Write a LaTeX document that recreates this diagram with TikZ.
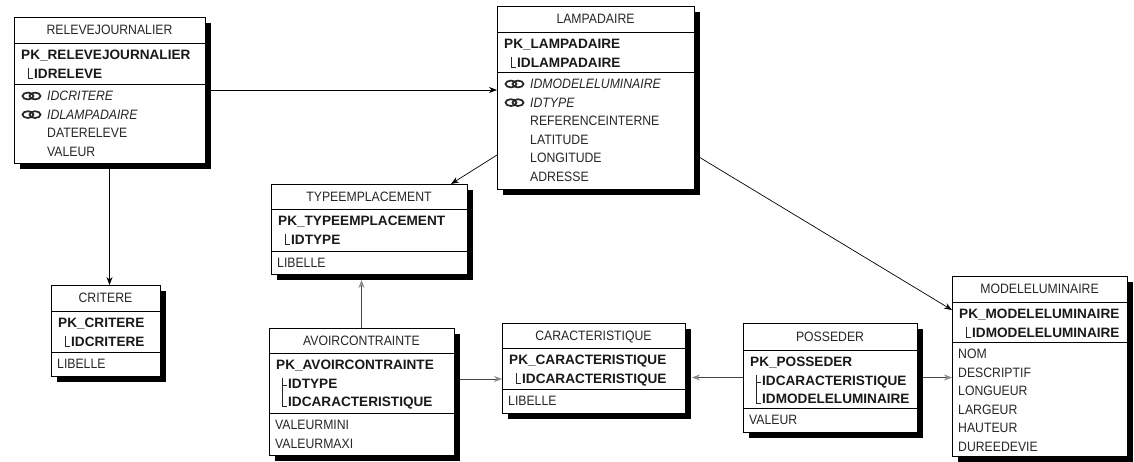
\documentclass[tikz,border=0pt]{standalone}
\usepackage{fontspec}
\setmainfont{Liberation Sans}[FakeStretch=0.9]
\newfontfamily\pkf{Liberation Sans}
\usetikzlibrary{arrows.meta,calc}
\pgfdeclarelayer{bg}
\pgfsetlayers{bg,main}
\definecolor{txt}{HTML}{262626}
\definecolor{garrow}{HTML}{8A8A8A}
\definecolor{gline}{HTML}{444444}
\tikzset{
  tablebox/.style={draw=black, line width=0.9pt, fill=white, inner sep=0pt, outer sep=0pt, rectangle},
  shadowbox/.style={fill=black},
  sepline/.style={draw=black, line width=0.9pt},
  hdr/.style={anchor=base, inner sep=0pt, text=txt, font=\fontsize{13.6}{14}\selectfont},
  pk/.style={anchor=base west, inner sep=0pt, text=black!90, font=\pkf\bfseries\fontsize{13.6}{14}\selectfont},
  att/.style={anchor=base west, inner sep=0pt, text=txt, font=\fontsize{13.6}{14}\selectfont},
  fk/.style={att, font=\itshape\fontsize{13.6}{14}\selectfont},
  treeline/.style={draw=txt, line width=0.8pt},
  fkring/.style={draw=black!85, line width=1.7pt},
  link/.style={draw=black, line width=0.7pt, -{Stealth[length=8pt,width=6pt]}},
  glink/.style={draw=gline, line width=0.7pt, -{Stealth[length=8pt,width=6pt,color=garrow]}},
}
% #1 name, #2 L, #3 T, #4 R, #5 header line, #6 pk line, #7 bottom, #8 title
\newcommand\dbtable[8]{%
  \fill[shadowbox] (#2+6,#3+6) rectangle (#4+6,#7+6);
  \node[tablebox, minimum width={#4-#2}, minimum height={#7-#3}] (#1) at ({(#2+#4)/2},{(#3+#7)/2}) {};
  \draw[sepline] (#2,#5) -- (#4,#5) (#2,#6) -- (#4,#6);
  \node[hdr] (#1-h) at ({(#2+#4)/2},{(#3+#5)/2+4.8}) {#8};
}
% #1 name, #2 style, #3 x, #4 section top, #5 row index, #6 text
\newcommand\rowat[6]{\node[#2] (#1) at (#3,{#4+16.5+18.6*#5}) {#6};}
% single corner: #1 L, #2 section top, #3 row index
\newcommand\treeone[3]{\draw[treeline] (#1+14,{#2+6.5+18.6*#3}) |- (#1+18.5,{#2+16.5+18.6*#3});}
% two rows (1 and 2): #1 L, #2 section top
\newcommand\treetwo[2]{\draw[treeline] (#1+13,{#2+6.5+18.6}) |- (#1+17.5,{#2+16.5+37.2})
  (#1+13,{#2+14+18.6}) -- (#1+17.5,{#2+14+18.6});}
% fk icon: #1 L, #2 section top, #3 row index
\newcommand\fkicon[3]{\draw[fkring] (#1+14,{#2+12+18.6*#3}) ellipse (5.5pt and 3.4pt)
  (#1+21,{#2+12+18.6*#3}) ellipse (5.5pt and 3.4pt);}
\begin{document}
\begin{tikzpicture}[x=1pt,y=-1pt]
\useasboundingbox (0,0) rectangle (1134,461);

% RELEVEJOURNALIER
\dbtable{rel}{14}{17}{205}{43}{84}{163}{RELEVEJOURNALIER}
\rowat{rel-pk}{pk}{21}{43}{0}{PK\_RELEVEJOURNALIER}
\rowat{rel-k1}{pk}{34}{43}{1}{IDRELEVE}
\treeone{14}{43}{1}
\fkicon{14}{84}{0}\fkicon{14}{84}{1}
\rowat{rel-a1}{fk}{47}{84}{0}{IDCRITERE}
\rowat{rel-a2}{fk}{47}{84}{1}{IDLAMPADAIRE}
\rowat{rel-a3}{att}{47}{84}{2}{DATERELEVE}
\rowat{rel-a4}{att}{47}{84}{3}{VALEUR}

% LAMPADAIRE
\dbtable{lamp}{497}{6}{694}{32}{72}{189}{LAMPADAIRE}
\rowat{lamp-pk}{pk}{504}{32}{0}{PK\_LAMPADAIRE}
\rowat{lamp-k1}{pk}{517}{32}{1}{IDLAMPADAIRE}
\treeone{497}{32}{1}
\fkicon{497}{72}{0}\fkicon{497}{72}{1}
\rowat{lamp-a1}{fk}{530}{72}{0}{IDMODELELUMINAIRE}
\rowat{lamp-a2}{fk}{530}{72}{1}{IDTYPE}
\rowat{lamp-a3}{att}{530}{72}{2}{REFERENCEINTERNE}
\rowat{lamp-a4}{att}{530}{72}{3}{LATITUDE}
\rowat{lamp-a5}{att}{530}{72}{4}{LONGITUDE}
\rowat{lamp-a6}{att}{530}{72}{5}{ADRESSE}

% TYPEEMPLACEMENT
\dbtable{type}{271}{184}{467}{209}{251}{274}{TYPEEMPLACEMENT}
\rowat{type-pk}{pk}{278}{209}{0}{PK\_TYPEEMPLACEMENT}
\rowat{type-k1}{pk}{291}{209}{1}{IDTYPE}
\treeone{271}{209}{1}
\rowat{type-a1}{att}{277}{251}{0}{LIBELLE}

% CRITERE
\dbtable{crit}{51}{285}{160}{311}{352}{376}{CRITERE}
\rowat{crit-pk}{pk}{58}{311}{0}{PK\_CRITERE}
\rowat{crit-k1}{pk}{71}{311}{1}{IDCRITERE}
\treeone{51}{311}{1}
\rowat{crit-a1}{att}{57}{352}{0}{LIBELLE}

% AVOIRCONTRAINTE
\dbtable{avoir}{269}{328}{454}{353}{413}{455}{AVOIRCONTRAINTE}
\rowat{avoir-pk}{pk}{276}{353}{0}{PK\_AVOIRCONTRAINTE}
\rowat{avoir-k1}{pk}{288}{353}{1}{IDTYPE}
\rowat{avoir-k2}{pk}{288}{353}{2}{IDCARACTERISTIQUE}
\treetwo{269}{353}
\rowat{avoir-a1}{att}{275}{413}{0}{VALEURMINI}
\rowat{avoir-a2}{att}{275}{413}{1}{VALEURMAXI}

% CARACTERISTIQUE
\dbtable{carac}{502}{323}{685}{348}{389}{413}{CARACTERISTIQUE}
\rowat{carac-pk}{pk}{509}{348}{0}{PK\_CARACTERISTIQUE}
\rowat{carac-k1}{pk}{522}{348}{1}{IDCARACTERISTIQUE}
\treeone{502}{348}{1}
\rowat{carac-a1}{att}{508}{389}{0}{LIBELLE}

% POSSEDER
\dbtable{poss}{743}{323}{917}{350}{408}{432}{POSSEDER}
\rowat{poss-pk}{pk}{750}{350}{0}{PK\_POSSEDER}
\rowat{poss-k1}{pk}{762}{350}{1}{IDCARACTERISTIQUE}
\rowat{poss-k2}{pk}{762}{350}{2}{IDMODELELUMINAIRE}
\treetwo{743}{350}
\rowat{poss-a1}{att}{749}{408}{0}{VALEUR}

% MODELELUMINAIRE
\dbtable{modele}{952}{276}{1127}{302}{342}{456}{MODELELUMINAIRE}
\rowat{modele-pk}{pk}{959}{302}{0}{PK\_MODELELUMINAIRE}
\rowat{modele-k1}{pk}{972}{302}{1}{IDMODELELUMINAIRE}
\treeone{952}{302}{1}
\rowat{modele-a1}{att}{958}{342}{0}{NOM}
\rowat{modele-a2}{att}{958}{342}{1}{DESCRIPTIF}
\rowat{modele-a3}{att}{958}{342}{2}{LONGUEUR}
\rowat{modele-a4}{att}{958}{342}{3}{LARGEUR}
\rowat{modele-a5}{att}{958}{342}{4}{HAUTEUR}
\rowat{modele-a6}{att}{958}{342}{5}{DUREEDEVIE}

\begin{pgfonlayer}{bg}
  \fill[white] (0,0) rectangle (1134,461);
  \coordinate (lamp-out1) at ([yshift=-57.5pt]lamp.west);
  \coordinate (lamp-out2) at ([yshift=-56.5pt]lamp.east);
  \coordinate (type-in) at ([xshift=-16pt]type.north east);
  \coordinate (modele-in) at ([yshift=56pt]modele.west);
  \coordinate (avoir-out) at ([yshift=12.5pt]avoir.east);
  \draw[link] (rel.east) -- (rel.east -| lamp.west);
  \draw[link] (rel.south) -- (rel.south |- crit.north);
  \draw[link] (lamp-out1) -- (type-in);
  \draw[link] (lamp-out2) -- (modele-in);
  \draw[glink] (avoir.north) -- ($(avoir.north |- type.south)+(0,6)$);
  \draw[glink] (avoir-out) -- (avoir-out -| carac.west);
  \draw[glink] (poss.west) -- ($(poss.west -| carac.east)+(7,0)$);
  \draw[glink] (poss.east) -- (poss.east -| modele.west);
\end{pgfonlayer}
\end{tikzpicture}
\end{document}
